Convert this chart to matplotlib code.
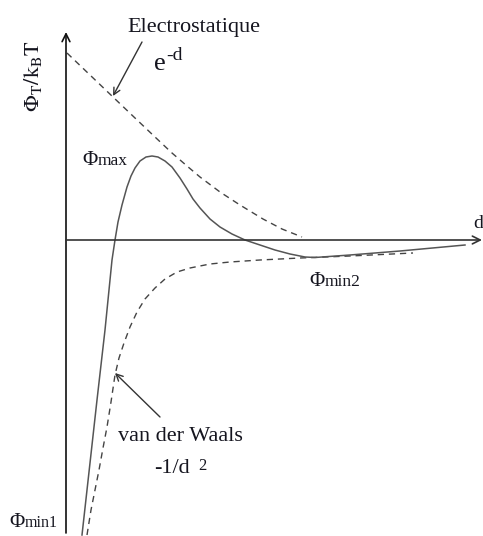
import matplotlib
matplotlib.use("Agg")
import matplotlib.pyplot as plt

plt.rcParams['font.family'] = ['Liberation Serif', 'DejaVu Serif']
plt.rcParams['mathtext.fontset'] = 'stix'

# Electrostatic repulsion, e^-d (distance d, energy Phi in arbitrary units)
elec_d = [0.1, 2.4, 4.7, 6.9, 8.9, 10.6, 12.1, 13.4, 15.4, 17.4, 19.7, 21.6, 23.6]
elec_phi = [18.7, 16.5, 14.3, 12.2, 10.3, 8.7, 7.4, 6.3, 4.8, 3.5, 2.1, 1.1, 0.3]

# van der Waals attraction, -1/d^2
vdw_d = [2.1, 2.5, 2.9, 3.3, 3.7, 4.1, 4.5, 4.9, 5.3, 5.8, 6.4, 7.1, 7.9, 8.9,
         9.9, 11.1, 12.4, 14.4, 16.4, 19.4, 23.4, 28.4, 34.7]
vdw_phi = [-29.5, -27.0, -25.0, -23.0, -20.8, -18.7, -16.2, -13.5, -11.8, -10.3,
           -8.7, -7.2, -5.9, -4.8, -3.9, -3.2, -2.8, -2.4, -2.2, -2.0, -1.8, -1.6, -1.3]

# Total interaction energy Phi_T / kB T
tot_d = [1.6, 3.1, 3.9, 4.6, 4.9, 5.2, 5.6, 6.1, 6.5, 6.9, 7.4, 8.0, 8.6, 9.2,
         9.9, 10.6, 11.4, 12.1, 12.7, 13.4, 14.4, 15.4, 16.6, 17.9, 19.4, 20.9,
         22.4, 23.9, 24.9, 28.4, 33.4, 39.9]
tot_phi = [-29.5, -16.0, -9.0, -2.0, 0.0, 1.8, 3.5, 5.3, 6.4, 7.2, 7.9, 8.3, 8.4,
           8.3, 7.9, 7.3, 6.2, 5.1, 4.1, 3.2, 2.1, 1.3, 0.6, 0.0, -0.5, -1.0,
           -1.4, -1.7, -1.75, -1.5, -1.1, -0.5]

txt = '#15151f'

fig = plt.figure(figsize=(4.83, 5.36), dpi=100)
ax = fig.add_axes([0, 0, 1, 1])
ax.set_xlim(-6.6, 41.7)
ax.set_ylim(-29.6, 24.0)
ax.axis('off')

# coordinate axes with arrow heads
ax.annotate('', xy=(0, 20.8), xytext=(0, -29.3),
            arrowprops=dict(arrowstyle='->', lw=1.2, color='#111111',
                            shrinkA=0, shrinkB=0, mutation_scale=14))
ax.annotate('', xy=(41.6, 0), xytext=(0, 0),
            arrowprops=dict(arrowstyle='->', lw=1.2, color='#333333',
                            shrinkA=0, shrinkB=0, mutation_scale=14))

# curves
l1, = ax.plot(elec_d, elec_phi, color='#444444', lw=1.0)
l1.set_dashes((4.5, 3.5))
l2, = ax.plot(vdw_d, vdw_phi, color='#444444', lw=1.0)
l2.set_dashes((4.5, 3.5))
ax.plot(tot_d, tot_phi, color='#555555', lw=1.1, solid_joinstyle='round')

# annotation arrows
ax.annotate('', xy=(4.7, 14.4), xytext=(7.6, 19.8),
            arrowprops=dict(arrowstyle='->', lw=1.0, color='#333333',
                            shrinkA=0, shrinkB=0, mutation_scale=12))
ax.annotate('', xy=(4.9, -13.3), xytext=(9.4, -17.7),
            arrowprops=dict(arrowstyle='->', lw=1.0, color='#333333',
                            shrinkA=0, shrinkB=0, mutation_scale=12))

# labels
ax.text(12.8, 20.8, 'Electrostatique', fontsize=16, color=txt,
        ha='center', va='baseline')
ax.text(10.0, 17.0, 'e', fontsize=19, color=txt, ha='right', va='baseline')
ax.text(10.0, 18.0, '-d', fontsize=14, color=txt, ha='left', va='baseline')

ax.text(3.2, 7.5, 'Φ', fontsize=15, color=txt, ha='right', va='baseline')
ax.text(3.2, 7.5, 'max', fontsize=12.5, color=txt, ha='left', va='baseline')

ax.text(25.9, -4.6, 'Φ', fontsize=15, color=txt, ha='right', va='baseline')
ax.text(25.9, -4.6, 'min2', fontsize=12.5, color=txt, ha='left', va='baseline')

ax.text(-4.1, -28.7, 'Φ', fontsize=15, color=txt, ha='right', va='baseline')
ax.text(-4.1, -28.7, 'min1', fontsize=11.5, color=txt, ha='left', va='baseline')

ax.text(11.4, -20.1, 'van der Waals', fontsize=16, color=txt,
        ha='center', va='baseline')
ax.text(12.4, -23.3, '-1/d', fontsize=16, color=txt, ha='right', va='baseline')
ax.text(13.2, -23.0, '2', fontsize=12, color=txt, ha='left', va='baseline')

ax.text(-3.3, 16.4, r'$\Phi_{\mathrm{T}}/\mathrm{k}_{\mathrm{B}}\mathrm{T}$',
        fontsize=16, color=txt, rotation=90, ha='center', va='center')

ax.text(40.7, 1.7, 'd', fontsize=14, color=txt, ha='left', va='center')

fig.savefig('out.png', dpi=100, facecolor='white')
